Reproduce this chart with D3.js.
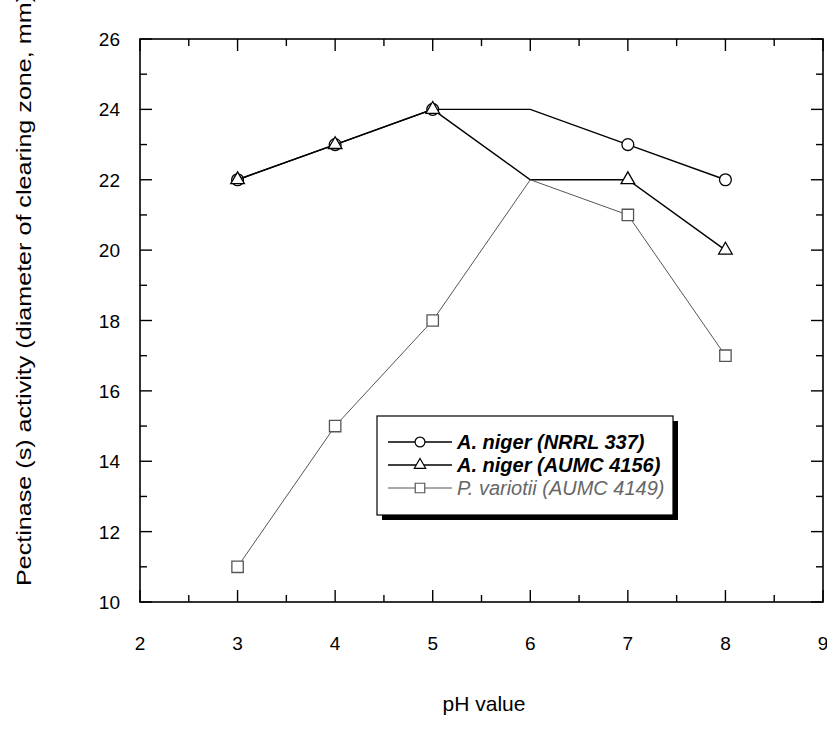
<!DOCTYPE html>
<html>
<head>
<meta charset="utf-8">
<script src="https://cdn.jsdelivr.net/npm/d3@7/dist/d3.min.js"></script>
<style>
  body { margin: 0; background: #fff; }
  text { font-family: "Liberation Sans", Arial, sans-serif; }
</style>
</head>
<body>
<div id="chart"></div>
<script>
// pH values on the x axis
const phValues = [3, 4, 5, 6, 7, 8];
// clearing zone diameter (mm) per strain
const nrrl337 = [22, 23, 24, 24, 23, 22];
const aumc4156 = [22, 23, 24, 22, 22, 20];
const aumc4149 = [11, 15, 18, 22, 21, 17];
// the original has no symbols drawn at pH 6
const markedPH = [3, 4, 5, 7, 8];

const xTicks = [2, 3, 4, 5, 6, 7, 8, 9];
const yTicks = [10, 12, 14, 16, 18, 20, 22, 24, 26];
const legendNames = ["A. niger (NRRL 337)", "A. niger (AUMC 4156)", "P. variotii (AUMC 4149)"];

const W = 827, H = 729;
const plotL = 140, plotR = 823, plotT = 39, plotB = 602;

const svg = d3.select("#chart").append("svg")
    .attr("width", W)
    .attr("height", H);

const x = d3.scaleLinear().domain([2, 9]).range([plotL, plotR]);
const y = d3.scaleLinear().domain([10, 26]).range([plotB, plotT]);

// ticks, all pointing inward, on all four sides
const xMinor = d3.range(2.5, 9, 1);
const yMinor = d3.range(11, 26, 2);
const majorLen = 12, minorLen = 7;

const ticks = svg.append("g").attr("stroke", "#000").attr("stroke-width", 1.4);
function xTick(v, len) {
    ticks.append("line").attr("x1", x(v)).attr("x2", x(v)).attr("y1", plotB).attr("y2", plotB - len);
    ticks.append("line").attr("x1", x(v)).attr("x2", x(v)).attr("y1", plotT).attr("y2", plotT + len);
}
function yTick(v, len) {
    ticks.append("line").attr("y1", y(v)).attr("y2", y(v)).attr("x1", plotL).attr("x2", plotL + len);
    ticks.append("line").attr("y1", y(v)).attr("y2", y(v)).attr("x1", plotR).attr("x2", plotR - len);
}
xTicks.forEach(v => xTick(v, majorLen));
xMinor.forEach(v => xTick(v, minorLen));
yTicks.forEach(v => yTick(v, majorLen));
yMinor.forEach(v => yTick(v, minorLen));

svg.append("rect")
    .attr("x", plotL).attr("y", plotT)
    .attr("width", plotR - plotL).attr("height", plotB - plotT)
    .attr("fill", "none")
    .attr("stroke", "#000")
    .attr("stroke-width", 1.6);

// tick labels
svg.append("g").selectAll("text")
    .data(xTicks)
    .join("text")
    .attr("x", d => x(d))
    .attr("y", 650)
    .attr("text-anchor", "middle")
    .attr("font-size", 19)
    .text(d => d);

svg.append("g").selectAll("text")
    .data(yTicks)
    .join("text")
    .attr("x", 120)
    .attr("y", d => y(d) + 7)
    .attr("text-anchor", "end")
    .attr("font-size", 19)
    .text(d => d);

// axis titles
svg.append("text")
    .attr("x", 484)
    .attr("y", 711)
    .attr("text-anchor", "middle")
    .attr("font-size", 21)
    .text("pH value");

svg.append("text")
    .attr("transform", "translate(31,586) rotate(-90)")
    .attr("x", 0)
    .attr("y", 0)
    .attr("font-size", 20)
    .attr("textLength", 592)
    .attr("lengthAdjust", "spacingAndGlyphs")
    .text("Pectinase (s) activity (diameter of clearing zone, mm)");

// series
const series = [
    { name: legendNames[0], values: nrrl337, symbol: d3.symbolCircle, size: 110, color: "#000", width: 1.4 },
    { name: legendNames[1], values: aumc4156, symbol: d3.symbolTriangle, size: 80, color: "#000", width: 1.4 },
    { name: legendNames[2], values: aumc4149, symbol: d3.symbolSquare, size: 130, color: "#555", width: 1 }
];

const line = d3.line()
    .x(d => x(d[0]))
    .y(d => y(d[1]));

series.forEach(s => {
    const pts = phValues.map((p, i) => [p, s.values[i]]);
    svg.append("path")
        .datum(pts)
        .attr("d", line)
        .attr("fill", "none")
        .attr("stroke", s.color)
        .attr("stroke-width", s.width);
    svg.append("g").selectAll("path")
        .data(pts.filter(d => markedPH.includes(d[0])))
        .join("path")
        .attr("transform", d => `translate(${x(d[0])},${y(d[1])})`)
        .attr("d", d3.symbol().type(s.symbol).size(s.size))
        .attr("fill", "#fff")
        .attr("stroke", s.color)
        .attr("stroke-width", 1.3);
});

// legend with drop shadow
const lg = svg.append("g").attr("transform", "translate(377,416)");
const lgW = 296, lgH = 99;
lg.append("rect")
    .attr("x", 5).attr("y", 5)
    .attr("width", lgW).attr("height", lgH)
    .attr("fill", "#000");
lg.append("rect")
    .attr("width", lgW).attr("height", lgH)
    .attr("fill", "#fff")
    .attr("stroke", "#000")
    .attr("stroke-width", 1.2);

series.forEach((s, i) => {
    const ry = 26 + i * 23;
    lg.append("line")
        .attr("x1", 11).attr("x2", 75)
        .attr("y1", ry).attr("y2", ry)
        .attr("stroke", s.color)
        .attr("stroke-width", s.width);
    lg.append("path")
        .attr("transform", `translate(43,${ry})`)
        .attr("d", d3.symbol().type(s.symbol).size(s.size * 0.7))
        .attr("fill", "#fff")
        .attr("stroke", s.color)
        .attr("stroke-width", 1.2);
    lg.append("text")
        .attr("x", 80)
        .attr("y", ry + 7)
        .attr("font-size", 20)
        .attr("font-style", "italic")
        .attr("font-weight", i < 2 ? "bold" : "normal")
        .attr("fill", i < 2 ? "#000" : "#666")
        .text(s.name);
});
</script>
</body>
</html>
